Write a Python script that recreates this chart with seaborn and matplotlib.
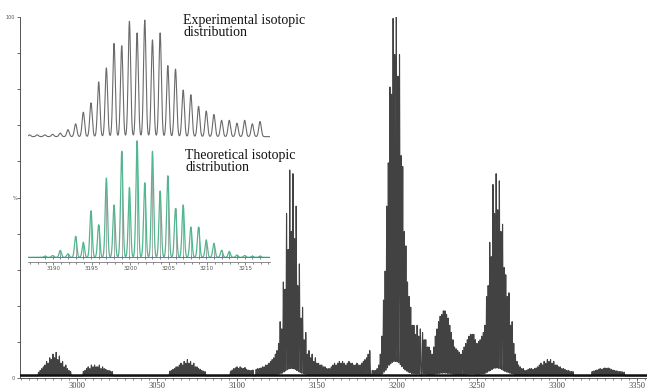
import numpy as np
import matplotlib
matplotlib.use("Agg")
import matplotlib.pyplot as plt
from matplotlib.ticker import MultipleLocator
import seaborn as sns

# Inset: experimental isotopic distribution (peak heights, % of max), 1 Da apart
exp_start = 3186.9
exp_heights = [1.5, 1.5, 1.5, 2, 3, 6, 11, 21, 29, 47, 59, 80, 78, 99, 89, 100,
               83, 89, 61, 58, 40, 36, 26, 22, 19, 14, 14, 11.5, 14, 11, 13]

# Inset: theoretical isotopic distribution
theo_start = 3188.9
theo_heights = [1, 1.5, 6, 3, 18, 13, 40, 28, 68, 45, 91, 60, 100, 64, 91, 57,
                70, 42, 45, 26, 26, 15, 12, 6, 5, 2, 1.5, 1, 1]

inset_ticks = [3190, 3195, 3200, 3205, 3210, 3215]

# Main spectrum, peak heights (% of base peak) per 1 Da, grouped by region
grp_a_start = 2976
grp_a = [1, 1.5, 2, 2.5, 3, 4, 3.5, 5, 4.5, 6, 5, 6.5, 4.5, 5.5, 3.5, 4, 2.5, 3,
         2, 1.5, 1.2]
grp_b_start = 3004
grp_b = [1.2, 1.5, 2, 2.5, 2, 3, 2.5, 3, 2.5, 2.5, 3, 2, 2.5, 2, 1.8, 1.5, 1.5,
         1.3, 1.2]
grp_c_start = 3058
grp_c = [1.3, 1.5, 1.8, 2, 2.5, 2.5, 3, 3.5, 3, 4, 3.5, 4.5, 3.5, 4, 3, 3.5,
         2.5, 2.5, 2, 1.8, 1.5, 1.3, 1.2]
grp_d_start = 3096
grp_d = [1.3, 1.6, 2, 2.2, 2.5, 2, 2.5, 2.2, 2, 2.3, 1.8, 1.6, 1.5, 1.5, 1.6]
grp_e_start = 3112
grp_e = [1.8, 2, 2, 2.2, 2.5, 2.5, 3, 3, 3.5, 4, 4.5, 5, 6, 7, 9,
         15, 13, 26, 24, 45, 35, 57, 40, 56, 38, 47, 25, 31, 16, 19, 10, 12, 6,
         7, 5, 6, 4, 5, 3.5, 3.5, 3, 3, 2.5, 2.5, 2, 2, 2]
grp_f_start = 3159
grp_f = [2.5, 3, 3.5, 3, 3.5, 4, 3.5, 4, 3.5, 3, 3.5, 4, 3.5, 3.5, 3, 3, 3.5,
         3, 3, 3.5, 4, 4.5, 5, 6, 7]
main_start = 3184.6  # main cluster = the experimental distribution above
grp_g_start = 3216
grp_g = [12, 10, 10, 8, 8, 7, 6, 8, 11, 13,
         15, 16.5, 17, 18, 18, 17, 16, 14, 12, 10,
         8, 7.5, 7, 6.5, 6, 7, 8, 9, 10, 11,
         11.5, 11.5, 11.5, 10, 9, 9.5, 10, 11, 12, 14,
         22, 25, 37, 33, 53, 45, 56, 46, 54, 40,
         42, 30, 28, 22, 23, 14, 15, 9, 6, 4,
         3, 2.5, 2, 2, 1.5]
grp_h_start = 3281
grp_h = [1.5, 1.8, 2, 2, 1.8, 2, 2.2, 2.5, 3, 3.5, 3, 4, 3.5, 4.5, 4, 4.5, 3.5,
         4, 3, 3, 2.5, 2.5, 2, 2, 1.8, 1.5, 1.5, 1.3, 1.2, 1.2]
grp_i_start = 3322
grp_i = [1.2, 1.3, 1.5, 1.6, 1.8, 2, 1.8, 2, 2.2, 2, 2.2, 2, 1.8, 1.6, 1.5, 1.4,
         1.3, 1.2, 1.2, 1.1, 1]

main_ticks = [3000, 3050, 3100, 3150, 3200, 3250, 3300, 3350]


def profile(grid, starts, groups, width, base=0.0):
    # draw each listed peak as a narrow Gaussian line shape
    mz = np.concatenate([s + np.arange(len(g)) for s, g in zip(starts, groups)])
    h = np.concatenate([np.asarray(g, float) for g in groups])
    y = np.full_like(grid, base)
    for m, v in zip(mz, h):
        sel = np.abs(grid - m) < 6 * width
        y[sel] += v * np.exp(-0.5 * ((grid[sel] - m) / width) ** 2)
    return y


sns.set_style("ticks")
plt.rcParams["font.family"] = ["Liberation Serif", "DejaVu Sans"]

fig = plt.figure(figsize=(6.47, 3.92), dpi=100)

# ---- main spectrum
ax = fig.add_axes([20 / 647, 14 / 392, 627 / 647, 361 / 392])
grid = np.arange(2964.0, 3357.0, 0.02)
spec = profile(grid,
               [grp_a_start, grp_b_start, grp_c_start, grp_d_start, grp_e_start,
                grp_f_start, main_start, grp_g_start, grp_h_start, grp_i_start],
               [grp_a, grp_b, grp_c, grp_d, grp_e, grp_f, exp_heights, grp_g,
                grp_h, grp_i],
               width=0.18, base=0.6)
sns.lineplot(x=grid, y=spec, ax=ax, color="#424242", linewidth=0.8,
             estimator=None)
ax.axhline(0.7, color="#111111", linewidth=1.8, zorder=3)
ax.set_xlim(2964.4, 3356.3)
ax.set_ylim(0, 100)
ax.set_xticks(main_ticks)
ax.xaxis.set_minor_locator(MultipleLocator(5))
ax.set_yticks([0, 100])
ax.set_yticklabels(["0", "100"], family="DejaVu Sans", fontsize=3.5)
ax.yaxis.set_minor_locator(MultipleLocator(10))
ax.tick_params(axis="x", labelsize=6, length=2.5, width=0.6, pad=0.5,
               colors="#444444")
ax.tick_params(axis="x", which="minor", length=1.6, width=0.4)
ax.tick_params(axis="y", length=2.5, width=0.6, pad=1, colors="#555555")
ax.tick_params(axis="y", which="minor", length=2, width=0.5)
for s in ["top", "right"]:
    ax.spines[s].set_visible(False)
for s in ["left", "bottom"]:
    ax.spines[s].set_color("#555555")
    ax.spines[s].set_linewidth(0.7)
ax.set_xlabel("")
ax.set_ylabel("")
fig.text(15 / 647, 1 - 199 / 392, "%", fontsize=3.5, family="DejaVu Sans",
         ha="center", va="center", color="#444444")

# ---- inset with the isotopic distributions
ax2 = fig.add_axes([28 / 647, 130 / 392, 242 / 647, 247 / 392])
ax2.patch.set_alpha(0)
exp_off = 107.6
theo_off = 4.0
g2 = np.arange(3186.7, 3218.2, 0.01)
exp_prof = profile(g2, [exp_start], [exp_heights], width=0.16)
theo_prof = profile(g2, [theo_start], [theo_heights], width=0.15)
sns.lineplot(x=g2, y=exp_prof + exp_off, ax=ax2, color="#6a6a6a",
             linewidth=0.8, estimator=None)
theo_mz = theo_start + np.arange(len(theo_heights))
ax2.vlines(theo_mz, theo_off, theo_off + np.array(theo_heights),
           color="#8a8a8a", linewidth=0.5)
sns.lineplot(x=g2, y=theo_prof + theo_off, ax=ax2, color="#52b68f",
             linewidth=0.9, estimator=None)
ax2.axhline(theo_off, color="#6f6fb5", linewidth=0.7)
sns.scatterplot(x=theo_mz, y=np.full(len(theo_mz), theo_off), ax=ax2,
                marker="|", s=12, color="#6f6fb5", linewidth=0.6)
ax2.set_xlim(3186.7, 3218.2)
ax2.set_ylim(0, 212)
ax2.set_xticks(inset_ticks)
ax2.set_xticklabels([str(t) for t in inset_ticks], family="DejaVu Sans")
ax2.xaxis.set_minor_locator(MultipleLocator(1))
ax2.set_yticks([])
ax2.tick_params(axis="x", labelsize=4, length=2, width=0.5, pad=1,
                colors="#555555")
ax2.tick_params(axis="x", which="minor", length=1.2, width=0.4)
for s in ["top", "right", "left"]:
    ax2.spines[s].set_visible(False)
ax2.spines["bottom"].set_color("#7a7a7a")
ax2.spines["bottom"].set_linewidth(0.6)
ax2.set_xlabel("")
ax2.set_ylabel("")

fig.text(183 / 647, 1 - 14 / 392, "Experimental isotopic\ndistribution",
         fontsize=10, ha="left", va="top", linespacing=0.95, color="#111111")
fig.text(185 / 647, 1 - 149 / 392, "Theoretical isotopic\ndistribution",
         fontsize=10, ha="left", va="top", linespacing=0.95, color="#111111")

fig.savefig("out.png", dpi=100)
